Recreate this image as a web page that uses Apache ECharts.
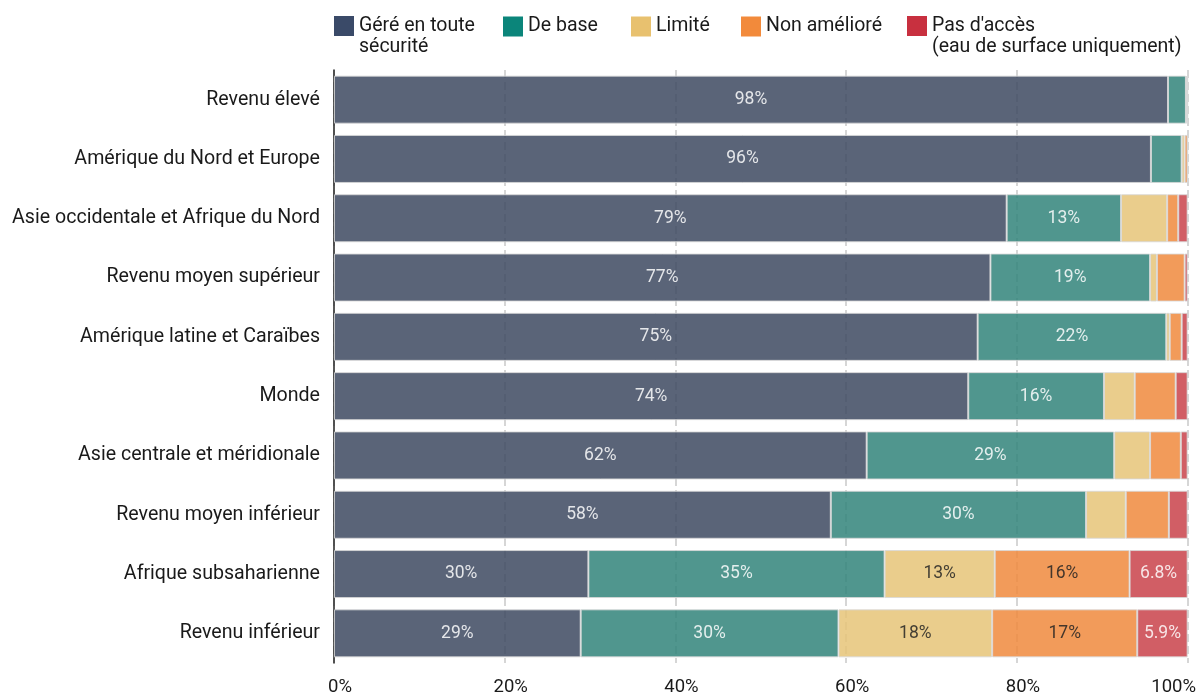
<!DOCTYPE html>
<html>
<head>
<meta charset="utf-8">
<title>Accès à l'eau potable</title>
<script src="https://cdn.jsdelivr.net/npm/echarts@6/dist/echarts.min.js"></script>
<style>
  html, body { margin: 0; padding: 0; background: #fff; }
  #chart { width: 1199px; height: 697px; }
</style>
</head>
<body>
<div id="chart"></div>
<script>
// Regions / income groups, top to bottom
const categories = [
  'Revenu élevé',
  'Amérique du Nord et Europe',
  'Asie occidentale et Afrique du Nord',
  'Revenu moyen supérieur',
  'Amérique latine et Caraïbes',
  'Monde',
  'Asie centrale et méridionale',
  'Revenu moyen inférieur',
  'Afrique subsaharienne',
  'Revenu inférieur'
];

// Share of population (%) by drinking-water service level
const safelyManaged = [97.7, 95.7, 78.8, 76.9, 75.4, 74.3, 62.4, 58.2, 29.8, 28.9];
const basicService  = [2.1, 3.6, 13.4, 18.7, 22.1, 15.9, 29.0, 29.9, 34.7, 30.2];
const limitedService = [0.1, 0.35, 5.4, 0.8, 0.4, 3.6, 4.2, 4.65, 12.9, 18.0];
const unimproved    = [0.1, 0.35, 1.3, 3.25, 1.4, 4.8, 3.6, 5.05, 15.8, 17.0];
const surfaceWater  = [0.0, 0.0, 1.1, 0.35, 0.7, 1.4, 0.8, 2.2, 6.8, 5.9];

const seriesNames = [
  'Géré en toute\nsécurité',
  'De base',
  'Limité',
  'Non amélioré',
  "Pas d'accès\n(eau de surface uniquement)"
];
const xTicks = [0, 20, 40, 60, 80, 100];

// Legend swatches use the full colours, bars a softened variant
const legendColors = ['#3a4a68', '#0b857a', '#e8c16f', '#f28a3b', '#c8303f'];
const barColors = ['#3a465e', '#2e8278', '#e6c376', '#f0883a', '#c83f48'];
const labelColors = ['#ffffff', '#ffffff', '#222222', '#222222', '#ffffff'];
const FONT = 'Roboto, "Noto Sans", sans-serif';

function fmt(v) {
  return v >= 10 ? Math.round(v) + '%' : v.toFixed(1) + '%';
}

const values = [safelyManaged, basicService, limitedService, unimproved, surfaceWater];

const series = values.map((arr, i) => ({
  name: seriesNames[i],
  type: 'bar',
  stack: 'total',
  barWidth: 48,
  data: arr,
  itemStyle: { color: barColors[i], opacity: 0.84, borderColor: '#d8d8d8', borderWidth: 1 },
  label: {
    show: true,
    position: 'inside',
    fontFamily: FONT,
    fontSize: 17.5,
    color: labelColors[i],
    formatter: p => (p.value >= 5.7 ? fmt(p.value) : '')
  },
  emphasis: { disabled: true }
}));

// Legend entries placed individually along the top; two-line names get a
// blank leading line so their first line sits level with the colour square
const legendLeft = [334, 503, 631, 741, 907];
const legends = seriesNames.map((n, i) => {
  const twoLine = n.indexOf('\n') >= 0;
  return {
    data: [n],
    left: legendLeft[i],
    top: twoLine ? -5.5 : 16,
    padding: 0,
    itemWidth: 20,
    itemHeight: 20,
    itemGap: 0,
    icon: 'rect',
    selectedMode: false,
    formatter: name => (twoLine ? ' \n' + name : name),
    itemStyle: { color: legendColors[i], opacity: 1, borderWidth: 0 },
    textStyle: {
      fontFamily: FONT,
      fontSize: 19.5,
      color: '#1a1a1a',
      lineHeight: 21
    }
  };
});

const chart = echarts.init(document.getElementById('chart'), null, { renderer: 'canvas' });
chart.setOption({
  animation: false,
  backgroundColor: '#ffffff',
  legend: legends,
  grid: { left: 334, right: 9, top: 70, height: 595, containLabel: false },
  xAxis: {
    type: 'value',
    min: 0,
    max: 100,
    interval: 20,
    axisLine: { show: false },
    axisTick: { show: false },
    splitLine: { show: true, lineStyle: { color: '#d6d6d6', width: 2, type: [8, 4] } },
    axisLabel: {
      margin: 15,
      fontFamily: FONT,
      fontSize: 18.5,
      color: '#1a1a1a',
      formatter: v => (v === 100 ? '{m|' + v + '%}' : '{n|' + v + '%}'),
      rich: {
        n: { fontFamily: FONT, fontSize: 18.5, color: '#1a1a1a', padding: [0, 0, 0, 12] },
        m: { fontFamily: FONT, fontSize: 18.5, color: '#1a1a1a', padding: [0, 28, 0, 0] }
      }
    }
  },
  yAxis: {
    type: 'category',
    data: categories,
    inverse: true,
    axisLine: { show: true, lineStyle: { color: '#222', width: 1.5 } },
    axisTick: { show: false },
    axisLabel: {
      margin: 14,
      fontFamily: FONT,
      fontSize: 19.6,
      color: '#1a1a1a',
      padding: [0, 0, 27, 0]
    }
  },
  series: series
});
</script>
</body>
</html>
